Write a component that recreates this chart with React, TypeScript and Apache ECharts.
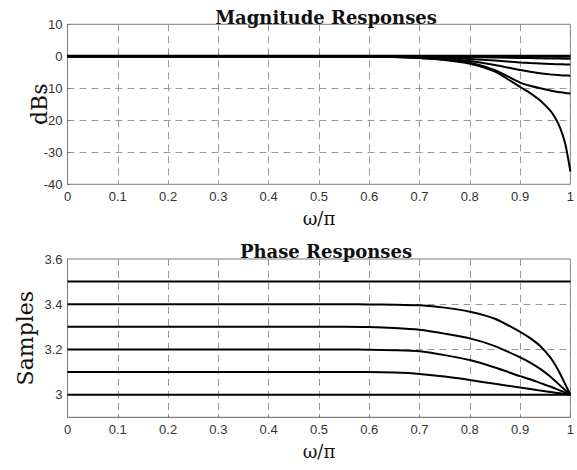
import React, { useEffect, useRef } from 'react';
import * as echarts from 'echarts';

// Magnitude responses (dB) sampled at normalized frequency ω/π
const freqMag = [0, 0.5, 0.55, 0.6, 0.65, 0.7, 0.75, 0.8, 0.85, 0.9, 0.92, 0.94, 0.96, 0.97, 0.98, 0.99, 1.0];
const magD30 = [0, 0, 0, 0, 0, 0, 0, 0, 0, 0, 0, 0, 0, 0, 0, 0, 0];
const magD31 = [0, 0, 0, 0, 0, -0.03, -0.1, -0.2, -0.35, -0.5, -0.56, -0.62, -0.68, -0.7, -0.72, -0.74, -0.75];
const magD32 = [0, 0, 0, -0.02, -0.08, -0.2, -0.45, -0.85, -1.35, -1.9, -2.1, -2.25, -2.4, -2.45, -2.5, -2.53, -2.55];
const magD33 = [0, 0, 0, -0.05, -0.15, -0.35, -0.8, -1.5, -2.7, -4.3, -4.85, -5.3, -5.65, -5.8, -5.92, -6.0, -6.05];
const magD34 = [0, 0, 0, -0.05, -0.2, -0.5, -1.05, -2.0, -4.3, -8.2, -9.2, -10.0, -10.7, -11.0, -11.25, -11.45, -11.6];
const magD35 = [0, 0, 0, -0.05, -0.2, -0.55, -1.15, -2.3, -4.8, -9.6, -11.5, -13.8, -17.0, -19.3, -22.5, -27.5, -36];

// Phase delay responses (samples)
const freqPhase = [0, 0.5, 0.55, 0.6, 0.65, 0.7, 0.75, 0.8, 0.85, 0.9, 0.92, 0.94, 0.96, 0.97, 0.98, 0.99, 1.0];
const phaseD30 = [3, 3, 3, 3, 3, 3, 3, 3, 3, 3, 3, 3, 3, 3, 3, 3, 3];
const phaseD31 = [3.1, 3.1, 3.1, 3.1, 3.098, 3.092, 3.08, 3.065, 3.048, 3.032, 3.025, 3.018, 3.012, 3.009, 3.006, 3.003, 3.0];
const phaseD32 = [3.2, 3.2, 3.2, 3.199, 3.197, 3.192, 3.175, 3.153, 3.12, 3.082, 3.068, 3.052, 3.036, 3.027, 3.018, 3.009, 3.0];
const phaseD33 = [3.3, 3.3, 3.3, 3.299, 3.295, 3.287, 3.27, 3.249, 3.215, 3.165, 3.142, 3.114, 3.08, 3.06, 3.04, 3.02, 3.0];
const phaseD34 = [3.4, 3.4, 3.4, 3.399, 3.398, 3.395, 3.385, 3.367, 3.336, 3.278, 3.25, 3.215, 3.165, 3.131, 3.09, 3.045, 3.0];
const phaseD35 = [3.5, 3.5, 3.5, 3.5, 3.5, 3.5, 3.5, 3.5, 3.5, 3.5, 3.5, 3.5, 3.5, 3.5, 3.5, 3.5, 3.5];

const magSeries = [magD30, magD31, magD32, magD33, magD34, magD35];
const phaseSeries = [phaseD30, phaseD31, phaseD32, phaseD33, phaseD34, phaseD35];
const phaseGridValues = [3.2, 3.4];

const AXIS_COLOR = '#7a7a7a';
const GRID_COLOR = '#9a9a9a';
const LABEL_COLOR = '#333';
const SERIF = '"DejaVu Serif", serif';
const SANS = '"Liberation Sans", Arial, sans-serif';

export default function App() {
  const ref = useRef<HTMLDivElement>(null);
  useEffect(() => {
    document.body.style.margin = '0';
    const chart = echarts.init(ref.current!, null, { renderer: 'svg' });
    const xAxisCommon = (gridIndex: number) => ({
      type: 'value',
      gridIndex,
      min: 0,
      max: 1,
      interval: 0.1,
      name: 'ω/π',
      nameLocation: 'middle',
      nameGap: 25,
      nameMoveOverlap: false,
      nameTextStyle: { fontFamily: SERIF, fontSize: 18, color: '#111' },
      axisLine: { show: true, lineStyle: { color: AXIS_COLOR, width: 1 } },
      axisTick: { show: true, inside: true, length: 3, lineStyle: { color: AXIS_COLOR } },
      axisLabel: { color: LABEL_COLOR, fontFamily: SANS, fontSize: 13, margin: 6 },
      splitLine: { show: true, lineStyle: { color: GRID_COLOR, type: [7, 5], width: 1 } },
    });
    const option: any = {
      animation: false,
      backgroundColor: '#fff',
      title: [
        {
          text: 'Magnitude Responses',
          left: 321,
          top: 3,
          textAlign: 'center',
          textStyle: { fontFamily: SERIF, fontWeight: 'bold', fontSize: 18, color: '#111' },
        },
        {
          text: 'Phase Responses',
          left: 321,
          top: 237,
          textAlign: 'center',
          textStyle: { fontFamily: SERIF, fontWeight: 'bold', fontSize: 18, color: '#111' },
        },
      ],
      grid: [
        { left: 67.5, top: 24.3, width: 508, height: 160, show: true, borderColor: AXIS_COLOR, borderWidth: 1 },
        { left: 67.5, top: 259, width: 508, height: 158.3, show: true, borderColor: AXIS_COLOR, borderWidth: 1 },
      ],
      xAxis: [xAxisCommon(0), xAxisCommon(1)],
      yAxis: [
        {
          type: 'value',
          gridIndex: 0,
          min: -40,
          max: 10,
          interval: 10,
          name: 'dBs',
          nameLocation: 'middle',
          nameGap: 17,
          nameMoveOverlap: false,
          nameTextStyle: { fontFamily: SERIF, fontSize: 22, color: '#111' },
          axisLine: { show: true, lineStyle: { color: AXIS_COLOR, width: 1 } },
          axisTick: { show: true, inside: true, length: 3, lineStyle: { color: AXIS_COLOR } },
          axisLabel: { color: LABEL_COLOR, fontFamily: SANS, fontSize: 13, margin: 5 },
          splitLine: { show: true, lineStyle: { color: GRID_COLOR, type: [7, 5], width: 1 } },
        },
        {
          type: 'value',
          gridIndex: 1,
          min: 2.9,
          max: 3.6,
          interval: 0.1,
          name: 'Samples',
          nameLocation: 'middle',
          nameGap: 31,
          nameMoveOverlap: false,
          nameTextStyle: { fontFamily: SERIF, fontSize: 22, color: '#111' },
          axisLine: { show: true, lineStyle: { color: AXIS_COLOR, width: 1 } },
          axisTick: { show: false },
          axisLabel: {
            color: LABEL_COLOR,
            fontFamily: SANS,
            fontSize: 13,
            margin: 5,
            formatter: (v: number) => {
              const k = Math.round(v * 10);
              if (k < 30 || k % 2 !== 0) return '';
              return k === 30 ? '3' : (k / 10).toFixed(1);
            },
          },
          splitLine: { show: false },
        },
      ],
      series: [
        ...magSeries.map((arr, si) => ({
          type: 'line',
          xAxisIndex: 0,
          yAxisIndex: 0,
          data: freqMag.map((x, i) => [x, arr[i]]),
          showSymbol: false,
          smooth: 0.25,
          lineStyle: { color: '#000', width: si === 0 ? 3 : 2 },
          silent: true,
          z: 3,
        })),
        ...phaseSeries.map((arr, si) => ({
          type: 'line',
          xAxisIndex: 1,
          yAxisIndex: 1,
          data: freqPhase.map((x, i) => [x, arr[i]]),
          showSymbol: false,
          smooth: 0.25,
          lineStyle: { color: '#000', width: 2 },
          silent: true,
          z: 3,
          markLine:
            si === 0
              ? {
                  silent: true,
                  symbol: 'none',
                  label: { show: false },
                  lineStyle: { color: GRID_COLOR, type: [7, 5], width: 1 },
                  data: phaseGridValues.map((v) => ({ yAxis: v })),
                  z: 1,
                }
              : undefined,
        })),
      ],
    };
    chart.setOption(option);
    return () => chart.dispose();
  }, []);
  return (
    <div
      ref={ref}
      style={{ position: 'absolute', left: 0, top: 0, width: 577, height: 470 }}
    />
  );
}
